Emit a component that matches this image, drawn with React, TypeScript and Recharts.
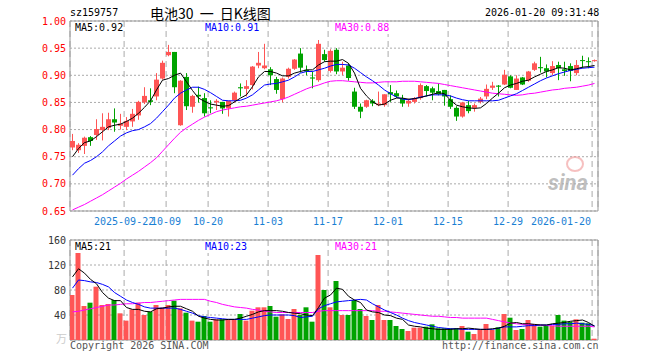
import React from 'react';
import { ComposedChart, Bar, Line, XAxis, YAxis, CartesianGrid, ReferenceArea, Cell } from 'recharts';

const opens = [0.767,0.762,0.770,0.786,0.790,0.799,0.803,0.819,0.807,0.805,0.815,0.826,0.850,0.854,0.861,0.894,0.937,0.943,0.808,0.897,0.842,0.864,0.858,0.841,0.850,0.851,0.839,0.854,0.878,0.875,0.882,0.918,0.913,0.911,0.893,0.856,0.897,0.912,0.940,0.910,0.896,0.891,0.939,0.908,0.947,0.907,0.918,0.870,0.842,0.842,0.853,0.845,0.845,0.869,0.867,0.858,0.848,0.851,0.858,0.880,0.876,0.871,0.873,0.856,0.840,0.824,0.845,0.840,0.851,0.861,0.877,0.881,0.883,0.898,0.873,0.896,0.890,0.910,0.915,0.913,0.904,0.919,0.911,0.917,0.904,0.928,0.926,0.926];
const closes = [0.779,0.772,0.785,0.779,0.801,0.805,0.819,0.813,0.811,0.816,0.829,0.851,0.862,0.851,0.892,0.923,0.943,0.878,0.890,0.843,0.862,0.861,0.830,0.839,0.853,0.839,0.853,0.868,0.876,0.880,0.916,0.923,0.918,0.900,0.873,0.894,0.912,0.929,0.914,0.907,0.894,0.958,0.928,0.945,0.907,0.914,0.895,0.842,0.833,0.854,0.848,0.848,0.865,0.865,0.861,0.848,0.853,0.858,0.882,0.871,0.868,0.865,0.861,0.842,0.824,0.850,0.834,0.845,0.857,0.875,0.881,0.879,0.901,0.877,0.894,0.883,0.907,0.922,0.913,0.907,0.917,0.913,0.908,0.908,0.919,0.927,0.925,0.928];
const highs = [0.792,0.775,0.787,0.788,0.819,0.830,0.831,0.839,0.829,0.823,0.838,0.853,0.878,0.876,0.904,0.927,0.956,0.943,0.891,0.904,0.864,0.879,0.867,0.854,0.856,0.851,0.853,0.870,0.885,0.891,0.917,0.943,0.958,0.915,0.897,0.896,0.914,0.930,0.950,0.918,0.907,0.965,0.947,0.948,0.950,0.925,0.922,0.877,0.848,0.855,0.856,0.870,0.865,0.882,0.872,0.864,0.857,0.860,0.885,0.882,0.879,0.885,0.873,0.863,0.843,0.851,0.853,0.848,0.860,0.883,0.888,0.882,0.910,0.900,0.900,0.897,0.908,0.925,0.934,0.920,0.926,0.925,0.925,0.922,0.928,0.936,0.933,0.929];
const lows = [0.762,0.757,0.755,0.770,0.781,0.780,0.799,0.796,0.800,0.799,0.805,0.818,0.847,0.845,0.854,0.892,0.935,0.867,0.807,0.836,0.831,0.850,0.824,0.830,0.836,0.829,0.824,0.850,0.861,0.861,0.874,0.913,0.911,0.882,0.866,0.850,0.894,0.910,0.905,0.900,0.876,0.888,0.925,0.905,0.902,0.900,0.890,0.838,0.821,0.840,0.843,0.843,0.842,0.851,0.858,0.842,0.842,0.848,0.855,0.861,0.854,0.863,0.844,0.838,0.816,0.822,0.830,0.833,0.848,0.856,0.873,0.861,0.882,0.876,0.873,0.882,0.888,0.908,0.905,0.896,0.900,0.891,0.899,0.889,0.900,0.913,0.913,0.925];
const ma5 = [0.750,0.765,0.776,0.779,0.787,0.796,0.805,0.808,0.810,0.815,0.821,0.830,0.841,0.853,0.873,0.891,0.894,0.900,0.904,0.888,0.872,0.858,0.852,0.847,0.845,0.843,0.844,0.851,0.858,0.864,0.879,0.897,0.907,0.907,0.904,0.899,0.899,0.904,0.907,0.910,0.910,0.919,0.925,0.926,0.926,0.929,0.922,0.904,0.876,0.862,0.851,0.845,0.847,0.854,0.858,0.858,0.856,0.857,0.859,0.862,0.865,0.868,0.866,0.854,0.845,0.842,0.840,0.839,0.840,0.848,0.858,0.867,0.877,0.882,0.885,0.889,0.891,0.897,0.902,0.907,0.910,0.914,0.913,0.910,0.912,0.915,0.916,0.918];
const ma10 = [0.716,0.728,0.738,0.743,0.750,0.759,0.770,0.779,0.788,0.794,0.798,0.800,0.805,0.811,0.821,0.833,0.845,0.858,0.867,0.873,0.878,0.878,0.874,0.868,0.861,0.854,0.853,0.853,0.854,0.858,0.864,0.873,0.882,0.884,0.885,0.888,0.891,0.897,0.904,0.907,0.907,0.910,0.913,0.917,0.920,0.920,0.919,0.913,0.905,0.897,0.890,0.882,0.873,0.866,0.860,0.856,0.855,0.857,0.860,0.862,0.864,0.864,0.864,0.862,0.858,0.855,0.853,0.853,0.853,0.853,0.853,0.854,0.858,0.862,0.866,0.872,0.878,0.884,0.890,0.895,0.899,0.903,0.906,0.909,0.911,0.913,0.914,0.915];
const ma30 = [0.652,0.657,0.662,0.668,0.674,0.680,0.687,0.694,0.701,0.709,0.716,0.723,0.731,0.739,0.748,0.760,0.772,0.784,0.795,0.803,0.810,0.817,0.823,0.828,0.833,0.836,0.838,0.840,0.842,0.843,0.845,0.847,0.849,0.851,0.853,0.856,0.860,0.865,0.870,0.875,0.879,0.882,0.886,0.889,0.890,0.890,0.889,0.888,0.887,0.886,0.886,0.887,0.888,0.888,0.888,0.889,0.889,0.889,0.888,0.887,0.886,0.885,0.883,0.881,0.879,0.877,0.875,0.873,0.871,0.869,0.867,0.866,0.865,0.864,0.863,0.864,0.866,0.867,0.869,0.871,0.873,0.874,0.876,0.877,0.878,0.880,0.882,0.885];
const volumes = [72,139.7,54.4,59.7,85.3,56,57.6,64,42.7,31,49,59.7,40,45.3,56,51.7,56,62.9,50.7,43.7,31,29.3,38.4,29.3,33.1,33.1,33.1,32,41.6,31,46.9,52.3,52.3,54.4,37.3,41,33.6,49.6,40,52.3,29.3,136,80,52.3,94.4,40,40,64,49.6,38.4,32,56,32,32,22.4,17.6,14.4,19.7,19.7,21.3,25.1,18.7,18.7,18.7,18.7,22.4,13.3,9.6,16,25.6,16,20.3,41.6,35.7,16,17.6,32,25.1,21.3,22.4,22.4,40,31,29.3,33.1,27.7,26.7,2.1];
const volMa5 = [101,114,107,97,90,76,67,63,63,52,49,49,46,45,50,51,53,54,54,50,46,38,35,33,32,32,33,33,35,38,41,45,47,47,47,46,44,43,42,40,39,52,67,72,83,81,70,64,60,48,45,44,40,39,35,33,24,22,21,19,18,17,17,17,18,18,19,18,17,17,18,19,22,27,28,26,26,25,24,24,26,27,28,30,31,32,28,22];
const volMa10 = [83,96,95,93,92,89,85,76,70,64,60,57,53,51,51,51,51,51,49,46,43,39,37,36,35,34,33,33,33,33,35,37,39,40,40,40,40,39,36,37,38,50,55,58,61,62,63,64,65,64,58,53,48,44,40,35,31,28,26,24,22,20,19,18,18,17,17,17,17,17,17,19,21,21,21,22,23,23,24,24,25,25,26,26,27,26,25,23];
const volMa30 = [45,46,48,50,52,54,56,56,57,58,58,59,60,60,61,62,63,64,65,65,65,65,65,62,60,57,55,53,52,51,49,48,46,45,44,44,44,44,44,44,44,46,47,47,47,47,47,47,47,47,47,46,46,45,44,43,42,41,40,39,38,38,37,36,36,35,35,35,35,35,33,31,29,27,26,25,25,24,24,23,23,22,22,22,22,22,22,21];

const dateTickIdx = [9, 16, 23, 33, 43, 53, 63, 73, 87];
const dateLabels = ['2025-09-22', '10-09', '10-20', '11-03', '11-17', '12-01', '12-15', '12-29', '2026-01-20'];
const priceTicks = [0.65, 0.7, 0.75, 0.8, 0.85, 0.9, 0.95, 1.0];
const volTicks = [40, 80, 120, 160];

const RED = '#ff5555';
const GREEN = '#00a300';
const MONO = '"DejaVu Sans Mono", monospace';
const X_DOMAIN: [number, number] = [-5 / 12, 88 - 5 / 12];
const GRID_SHIFT = 0.4;
const gridTicks = dateTickIdx.map((t) => t - GRID_SHIFT);

const rows = opens.map((o, i) => ({
  i,
  o,
  c: closes[i],
  h: highs[i],
  l: lows[i],
  range: [lows[i], highs[i]],
  ma5: ma5[i],
  ma10: ma10[i],
  ma30: ma30[i],
  vol: volumes[i],
  vma5: volMa5[i],
  vma10: volMa10[i],
  vma30: volMa30[i],
}));

const Candle = (props: any) => {
  const { x, y, width, height, payload } = props;
  if (x == null || payload == null) return null;
  const { o, c, h, l } = payload;
  const top0 = Math.min(y, y + height);
  const hh = Math.abs(height);
  const cx = Math.round(x + width / 2 - 0.5) + 0.5;
  const up = c >= o;
  const color = up ? RED : GREEN;
  const ratio = h === l ? 0 : hh / (h - l);
  const yO = top0 + (h - o) * ratio;
  const yC = top0 + (h - c) * ratio;
  const bt = Math.min(yO, yC);
  const bh = Math.max(1, Math.abs(yO - yC));
  return (
    <g>
      <line x1={cx} x2={cx} y1={top0} y2={top0 + Math.max(hh, 1)} stroke={color} strokeWidth={1} />
      <rect x={cx - 2.5} y={bt} width={5} height={bh} fill={color} />
    </g>
  );
};

const DateTick = (props: any) => {
  const { x, y, payload } = props;
  const k = gridTicks.findIndex((t) => Math.abs(t - payload.value) < 1e-6);
  const label = k >= 0 ? dateLabels[k] : '';
  const last = k === dateLabels.length - 1;
  return (
    <text x={last ? x - 1 : x} y={y + 14} textAnchor={last ? 'end' : 'middle'} fill="#1a7fd4" fontSize={10} fontFamily={MONO}>
      {label}
    </text>
  );
};

const abs = (left: number, top: number, extra: any = {}) => ({
  position: 'absolute' as const,
  left,
  top,
  fontFamily: MONO,
  fontSize: 10,
  lineHeight: '12px',
  whiteSpace: 'nowrap' as const,
  ...extra,
});

export default function App() {
  return (
    <div style={{ position: 'absolute', left: 0, top: 0, width: 660, height: 360, background: '#fff', overflow: 'hidden' }}>
      <div style={{ position: 'absolute', left: 0, top: 0 }}>
        <ComposedChart width={660} height={230} data={rows} margin={{ top: 21, right: 62, bottom: 0, left: 0 }}>
          <CartesianGrid vertical={false} stroke="#aaaaaa" strokeDasharray="2 2" />
          <CartesianGrid horizontal={false} stroke="#aaaaaa" strokeDasharray="6 4" />
          <XAxis
            type="number"
            dataKey="i"
            domain={X_DOMAIN}
            allowDataOverflow
            ticks={gridTicks}
            interval={0}
            height={19}
            axisLine={false}
            tickLine={false}
            tickSize={0}
            tickMargin={0}
            tick={<DateTick />}
          />
          <YAxis
            domain={[0.65, 1]}
            ticks={priceTicks}
            allowDataOverflow
            width={70}
            axisLine={false}
            tickLine={false}
            tickSize={0}
            tickMargin={4}
            interval={0}
            tick={{ fill: '#ff0000', fontSize: 10, fontFamily: MONO }}
            tickFormatter={(v: number) => v.toFixed(2)}
          />
          <ReferenceArea x1={X_DOMAIN[0]} x2={X_DOMAIN[1]} y1={0.65} y2={1} fill="none" stroke="#999999" strokeWidth={1} ifOverflow="visible" />
          <Bar dataKey="range" barSize={5} shape={<Candle />} isAnimationActive={false} />
          <Line dataKey="ma30" stroke="#ff00ff" strokeWidth={1} dot={false} isAnimationActive={false} />
          <Line dataKey="ma10" stroke="#0000ff" strokeWidth={1} dot={false} isAnimationActive={false} />
          <Line dataKey="ma5" stroke="#000000" strokeWidth={1} dot={false} isAnimationActive={false} />
        </ComposedChart>
      </div>
      <div style={{ position: 'absolute', left: 0, top: 230 }}>
        <ComposedChart width={660} height={130} data={rows} margin={{ top: 10, right: 62, bottom: 20, left: 0 }}>
          <CartesianGrid vertical={false} stroke="#aaaaaa" strokeDasharray="2 2" />
          <CartesianGrid horizontal={false} stroke="#aaaaaa" strokeDasharray="6 4" />
          <XAxis type="number" dataKey="i" domain={X_DOMAIN} allowDataOverflow ticks={gridTicks} interval={0} hide />
          <YAxis
            domain={[0, 160]}
            ticks={volTicks}
            allowDataOverflow
            width={70}
            axisLine={false}
            tickLine={false}
            tickSize={0}
            tickMargin={4}
            interval={0}
            tick={{ fill: '#333333', fontSize: 10, fontFamily: MONO }}
          />
          <ReferenceArea x1={X_DOMAIN[0]} x2={X_DOMAIN[1]} y1={0} y2={160} fill="none" stroke="#999999" strokeWidth={1} ifOverflow="visible" />
          <Bar dataKey="vol" barSize={5} isAnimationActive={false}>
            {rows.map((r, k) => (
              <Cell key={k} fill={r.c >= r.o ? RED : GREEN} />
            ))}
          </Bar>
          <Line dataKey="vma30" stroke="#ff00ff" strokeWidth={1} dot={false} isAnimationActive={false} />
          <Line dataKey="vma10" stroke="#0000ff" strokeWidth={1} dot={false} isAnimationActive={false} />
          <Line dataKey="vma5" stroke="#000000" strokeWidth={1} dot={false} isAnimationActive={false} />
        </ComposedChart>
      </div>

      <div style={abs(70, 7, { color: '#000' })}>sz159757</div>
      <div style={abs(150, 4, { color: '#000', fontFamily: '"Noto Sans CJK SC", sans-serif', fontSize: 14, lineHeight: '18px', wordSpacing: 3 })}>电池30 一 日K线图</div>
      <div style={abs(485, 7, { color: '#000' })}>2026-01-20 09:31:48</div>

      <div style={abs(75, 22, { color: '#000', background: '#fff' })}>MA5:0.92</div>
      <div style={abs(205, 22, { color: '#0000ff', background: '#fff' })}>MA10:0.91</div>
      <div style={abs(335, 22, { color: '#ff00ff', background: '#fff' })}>MA30:0.88</div>

      <div style={abs(75, 241, { color: '#000', background: '#fff' })}>MA5:21</div>
      <div style={abs(205, 241, { color: '#0000ff', background: '#fff' })}>MA10:23</div>
      <div style={abs(335, 241, { color: '#ff00ff', background: '#fff' })}>MA30:21</div>

      <div style={abs(56, 332, { color: '#cccccc', fontFamily: '"Noto Sans CJK SC", sans-serif', fontSize: 11 })}>万</div>

      <div style={abs(70, 340, { color: '#555' })}>Copyright 2026 SINA.COM</div>
      <div style={abs(442, 340, { color: '#555' })}>http://finance.sina.com.cn</div>

      <div style={{ position: 'absolute', left: 566, top: 156, width: 14, height: 12, borderRadius: '50%', border: '2px solid rgba(240,150,150,0.6)' }} />
      <div style={abs(548, 170, { color: 'rgba(170,170,170,0.75)', fontFamily: 'Roboto, sans-serif', fontSize: 22, fontWeight: 'bold', fontStyle: 'italic', lineHeight: '26px' })}>sina</div>
    </div>
  );
}
